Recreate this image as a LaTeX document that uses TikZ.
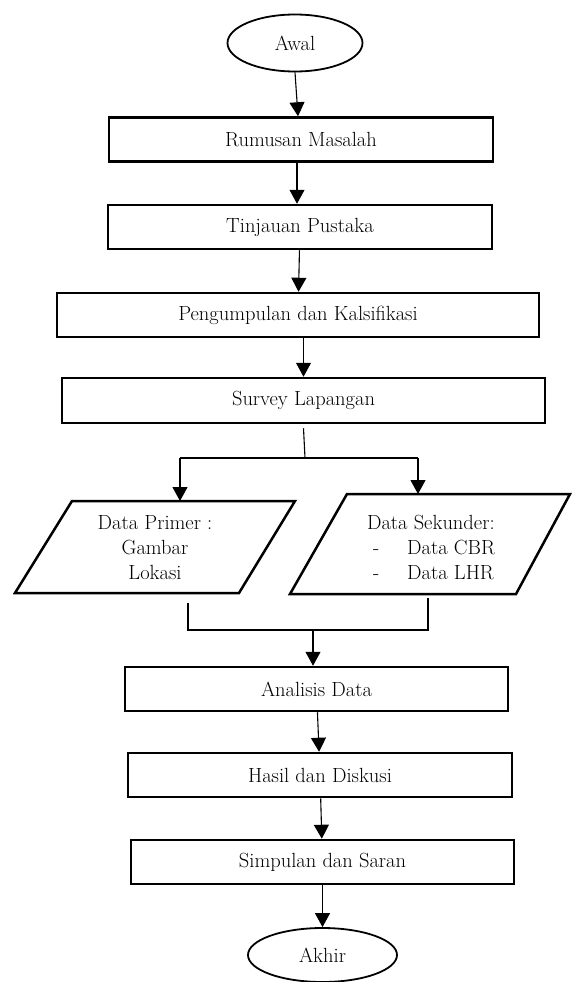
\documentclass[tikz,border=0pt]{standalone}
\usepackage{tikz}
\usetikzlibrary{positioning}
\usetikzlibrary{shapes.geometric}
\usetikzlibrary{arrows.meta}

\begin{document}
\begin{tikzpicture}[x=1pt, y=-1pt, >={Triangle[width=15pt,length=14pt]},
    line width=1.1pt, font=\fontsize{20.5}{25}\selectfont,
    proses/.style={rectangle, draw, line width=2.5pt, inner sep=0pt, minimum height=44pt},
    terminal/.style={ellipse, draw, line width=1.8pt, inner sep=0pt},
    datain/.style={draw, line width=2.5pt, line join=miter}]
    \useasboundingbox (0,0) rectangle (571,982);

        \node [terminal, minimum width=135pt, minimum height=57pt] (awal) at (295,43) {Awal};
        \node [proses, minimum width=384pt] (rumusan) at (301,139.5) {Rumusan Masalah};
        \node [proses, minimum width=384pt] (tinjauan) at (300,227) {Tinjauan Pustaka};
        \node [proses, minimum width=482pt] (kumpul) at (298,315) {Pengumpulan dan Kalsifikasi};
        \node [proses, minimum width=483pt, minimum height=45pt] (survey) at (303.5,400.5) {Survey Lapangan};

        \path (awal.south) edge[->] ([xshift=-3pt]rumusan.north);
        \path ([xshift=-4pt]rumusan.south) edge[->] ([xshift=-3pt]tinjauan.north);
        \path (tinjauan) edge[->] (kumpul);
        \path (kumpul.south -| survey) edge[->] (survey);

        % cabang ke data primer dan sekunder
        \coordinate (primerA) at (72,501);
        \coordinate (primerB) at (295,501);
        \coordinate (primerC) at (239,593);
        \coordinate (primerD) at (15,593);
        \draw [datain] (primerA) -- (primerB) -- (primerC) -- (primerD) -- cycle;
        \node [align=center] (primer) at (155,548) {Data Primer :\\Gambar\\Lokasi};

        \coordinate (sekunderA) at (347,494);
        \coordinate (sekunderB) at (570,494);
        \coordinate (sekunderC) at (516,594);
        \coordinate (sekunderD) at (290,594);
        \draw [datain] (sekunderA) -- (sekunderB) -- (sekunderC) -- (sekunderD) -- cycle;
        \node [align=left] (sekunder) at (431,547) {Data Sekunder:\\
            \hspace*{6pt}-\hspace{28pt}Data CBR\\\hspace*{6pt}-\hspace{28pt}Data LHR};

        \coordinate (pisah) at (305,458);
        \coordinate (pisahL) at (180,458);
        \coordinate (pisahR) at (418,458);
        \draw ([yshift=-4pt]survey.south) -- (pisah);
        \draw (pisahL) -- (pisahR);
        \path (pisahL) edge[->] (pisahL |- primerA);
        \path (pisahR) edge[->] (pisahR |- sekunderA);

        \coordinate (gabung) at (313,630);
        \coordinate (gabungL) at (188,630);
        \coordinate (gabungR) at (428,630);
        \draw ([yshift=-10pt]primerD -| gabungL) -- (gabungL) -- (gabungR)
            -- ([yshift=-4pt]sekunderD -| gabungR);

        \node [proses, minimum width=383pt] (analisis) at (316.5,689) {Analisis Data};
        \node [proses, minimum width=384pt] (hasil) at (320,775) {Hasil dan Diskusi};
        \node [proses, minimum width=383pt] (simpulan) at (322.5,862) {Simpulan dan Saran};
        \node [terminal, minimum width=149pt, minimum height=54pt] (akhir) at (322.5,955) {Akhir};

        \path (gabung) edge[->] (gabung |- analisis.north);
        \path (analisis) edge[->] (hasil);
        \path (hasil) edge[->] (simpulan);
        \path (simpulan) edge[->] (akhir);
\end{tikzpicture}
\end{document}
